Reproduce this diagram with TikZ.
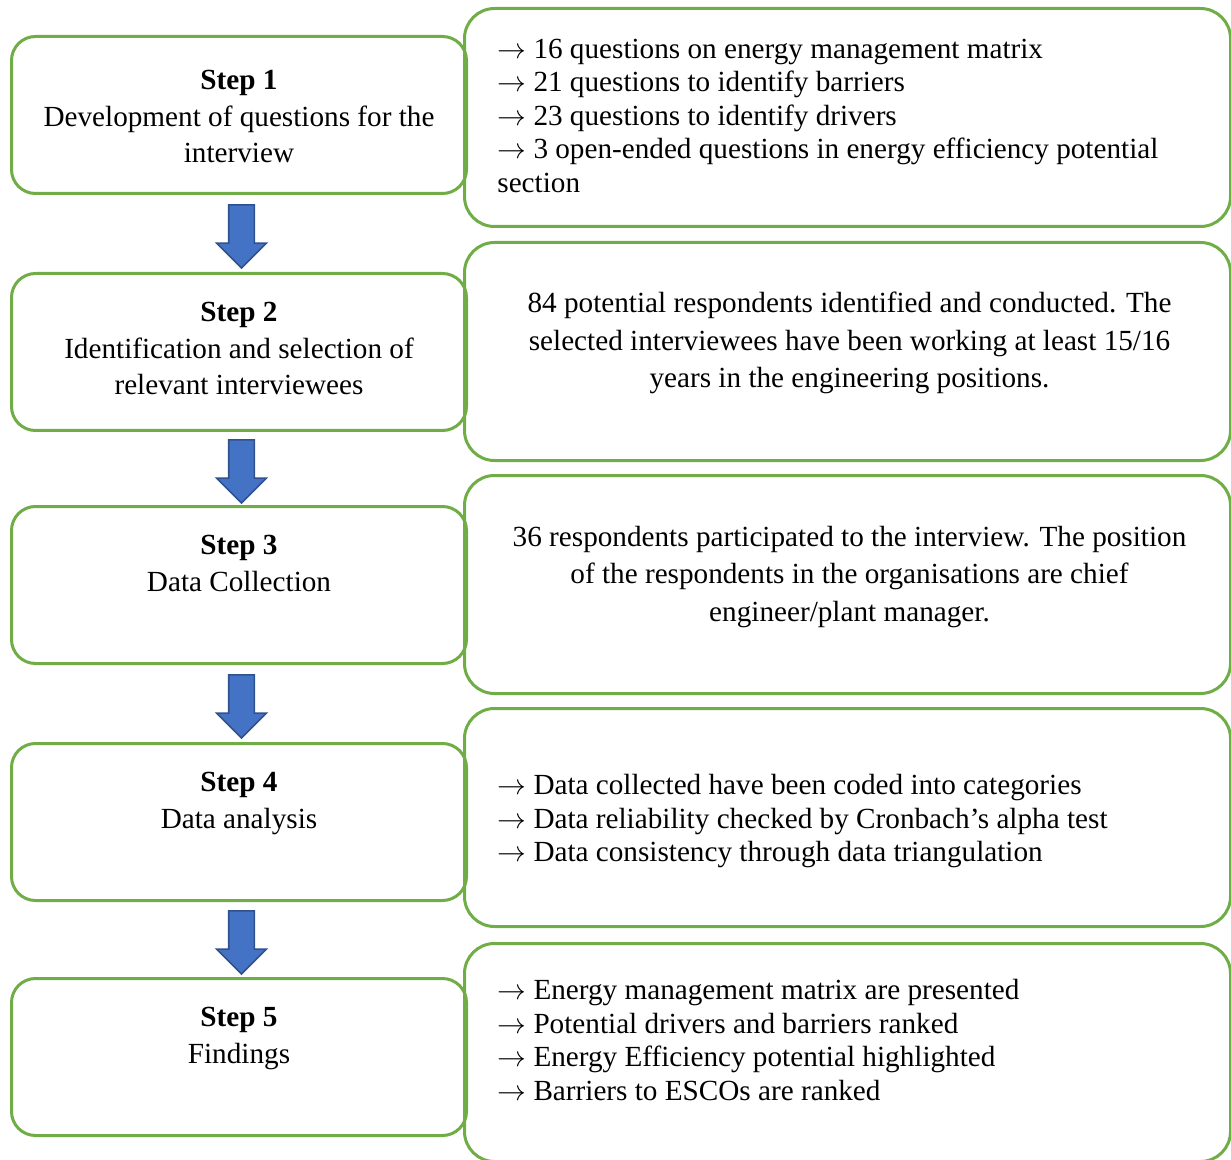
\documentclass[tikz,border=0pt]{standalone}
\usepackage{fontspec}
\setmainfont{Liberation Serif}
\usetikzlibrary{shapes.arrows,calc,positioning}

\definecolor{boxgreen}{HTML}{70AD47}
\definecolor{arrowblue}{HTML}{4472C4}
\definecolor{arrowedge}{HTML}{2F528F}

\newcommand{\itm}{$\rightarrow$ }

\tikzset{
  stepbox/.style={rectangle,rounded corners=12pt,draw=boxgreen,line width=1.5pt,
    minimum width=227.5pt,minimum height=78.5pt,above right},
  infobox/.style={rectangle,rounded corners=15pt,draw=boxgreen,line width=1.5pt,
    minimum width=383pt,minimum height=109pt,above right},
  steptext/.style={inner sep=0pt,align=center,anchor=north,
    font=\fontsize{14.6}{18.25}\selectfont},
  infotext/.style={inner sep=0pt,align=center,
    font=\fontsize{14.6}{18.75}\selectfont},
  listtext/.style={inner sep=0pt,align=left,anchor=west,
    font=\fontsize{14.6}{16.75}\selectfont},
  blockarrow/.style={single arrow,draw=arrowedge,fill=arrowblue,line width=0.8pt,
    text height=6pt,text depth=6pt,minimum height=31.5pt,
    single arrow head extend=6pt,inner sep=0pt,rotate=-90}
}

\begin{document}
\begin{tikzpicture}[x=0.5pt,y=-0.5pt]
  \useasboundingbox (0,0) rectangle (1231,1160);

  % step boxes (left column)
  \node[stepbox] (s1) at (10,195) {};
  \node[stepbox] (s2) at (10,432) {};
  \node[stepbox] (s3) at (10,665) {};
  \node[stepbox] (s4) at (10,902) {};
  \node[stepbox] (s5) at (10,1137) {};

  \node[steptext] (l1) at ([yshift=-17.5pt]s1.north) {\textbf{Step 1}\\Development of questions for the\\interview};
  \node[steptext] (l2) at ([yshift=-15pt]s2.north) {\textbf{Step 2}\\Identification and selection of\\relevant interviewees};
  \node[steptext] (l3) at ([yshift=-15pt]s3.north) {\textbf{Step 3}\\Data Collection};
  \node[steptext] (l4) at ([yshift=-15pt]s4.north) {\textbf{Step 4}\\Data analysis};
  \node[steptext] (l5) at ([yshift=-15pt]s5.north) {\textbf{Step 5}\\Findings};

  % detail boxes (right column)
  \node[infobox] (r1) at (463,228) {};
  \node[infobox] (r2) at (463,462) {};
  \node[infobox] (r3) at (463,695) {};
  \node[infobox] (r4) at (463,928) {};
  \node[infobox] (r5) at (463,1163) {};

  \node[listtext] (d1) at ([shift={(34,-2)}]r1.west) {\itm 16 questions on energy management matrix\\
    \itm 21 questions to identify barriers\\
    \itm 23 questions to identify drivers\\
    \itm 3 open-ended questions in energy efficiency potential\\
    section};
  \node[infotext] (d2) at ([shift={(2,-8.5)}]r2.center) {84 potential respondents identified and conducted. The\\
    selected interviewees have been working at least 15/16\\
    years in the engineering positions.};
  \node[infotext] (d3) at ([shift={(2,-7.5)}]r3.center) {36 respondents participated to the interview. The position\\
    of the respondents in the organisations are chief\\
    engineer/plant manager.};
  \node[listtext] (d4) at ([shift={(34,4)}]r4.west) {\itm Data collected have been coded into categories\\
    \itm Data reliability checked by Cronbach’s alpha test\\
    \itm Data consistency through data triangulation};
  \node[listtext] (d5) at ([shift={(34,-12.5)}]r5.west) {\itm Energy management matrix are presented\\
    \itm Potential drivers and barriers ranked\\
    \itm Energy Efficiency potential highlighted\\
    \itm Barriers to ESCOs are ranked};

  % flow arrows
  \foreach \a/\b in {s1/s2,s2/s3,s3/s4,s4/s5}
    \node[blockarrow] (arr-\a) at ($(\a.south)!.5!(\b.north)+(2.5,-3.5)$) {};

\end{tikzpicture}
\end{document}
